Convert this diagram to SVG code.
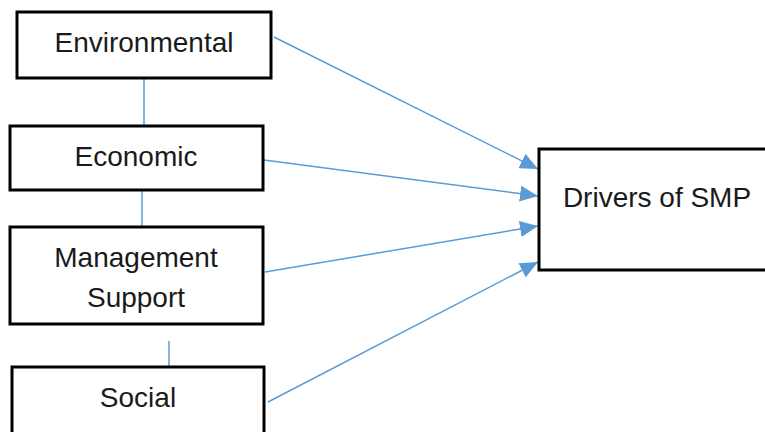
<svg xmlns="http://www.w3.org/2000/svg" width="765" height="432" viewBox="0 0 765 432">
<style>
.box{fill:#fff;stroke:#000;stroke-width:3}
.lbl{font-family:"Liberation Sans",Arial,sans-serif;font-size:28px;fill:#1a1a1a;text-anchor:middle}
.ln{stroke:#5b9bd5;stroke-width:1.5;fill:none}
</style>
<defs>
<marker id="ah" markerWidth="19" markerHeight="16" refX="18" refY="8" orient="auto" markerUnits="userSpaceOnUse">
<path d="M0,0 L18,8 L0,16 Z" fill="#5b9bd5"/>
</marker>
</defs>
<rect width="765" height="432" fill="#fff"/>
<g id="connectors">
<line class="ln" x1="144" y1="78" x2="144" y2="126"/>
<line class="ln" x1="142" y1="190" x2="142" y2="227"/>
<line class="ln" x1="169" y1="341" x2="169" y2="367"/>
<line class="ln" x1="274" y1="37" x2="538" y2="169" marker-end="url(#ah)"/>
<line class="ln" x1="264" y1="160" x2="538" y2="196" marker-end="url(#ah)"/>
<line class="ln" x1="265" y1="272" x2="538" y2="226" marker-end="url(#ah)"/>
<line class="ln" x1="268" y1="402" x2="538" y2="262" marker-end="url(#ah)"/>
</g>
<g id="environmental">
<rect class="box" x="17" y="12" width="254" height="66"/>
<text class="lbl" x="144" y="52">Environmental</text>
</g>
<g id="economic">
<rect class="box" x="10" y="126" width="253" height="64"/>
<text class="lbl" x="136" y="166">Economic</text>
</g>
<g id="management">
<rect class="box" x="10" y="227" width="253" height="97"/>
<text class="lbl" x="136" y="267">Management</text>
<text class="lbl" x="136" y="307">Support</text>
</g>
<g id="social">
<rect class="box" x="12" y="367" width="252" height="80"/>
<text class="lbl" x="138" y="407">Social</text>
</g>
<g id="drivers">
<rect class="box" x="539" y="149" width="240" height="121"/>
<text class="lbl" x="657" y="207">Drivers of SMP</text>
</g>
</svg>
